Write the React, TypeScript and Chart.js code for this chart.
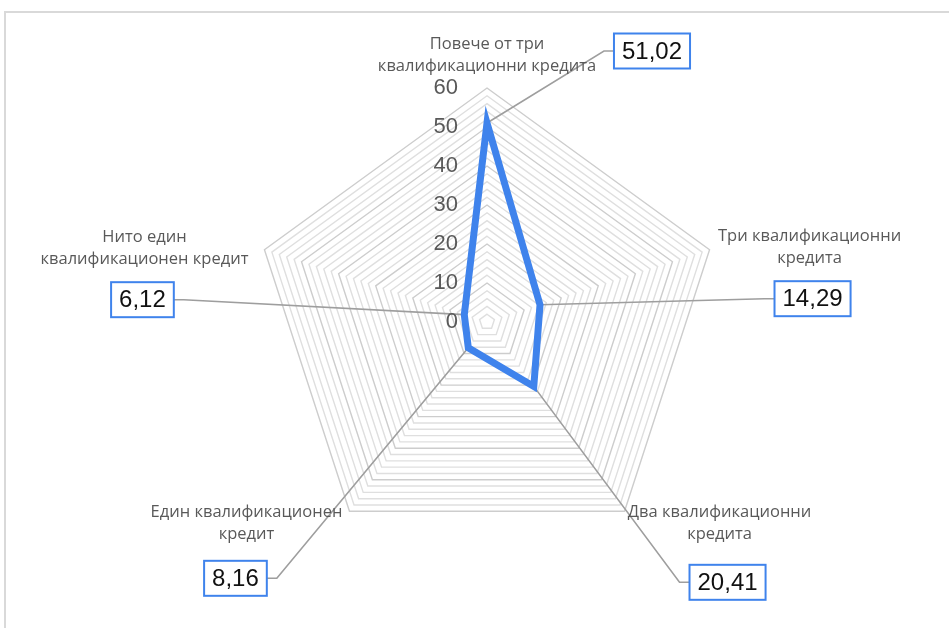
import React, { useEffect, useRef } from "react";
import { Chart, registerables } from "chart.js";

Chart.register(...registerables);

// Categories (two-line labels), shares in percent, radial tick labels
const CATEGORIES: string[][] = [
  ["Повече от три", "квалификационни кредита"],
  ["Три квалификационни", "кредита"],
  ["Два квалификационни", "кредита"],
  ["Един квалификационен", "кредит"],
  ["Нито един", "квалификационен кредит"],
];
const VALUES: number[] = [51.02, 14.29, 20.41, 8.16, 6.12];
const TICK_LABELS: number[] = [0, 10, 20, 30, 40, 50, 60];

// Offsets of category captions and value callouts from each outer vertex
const CAPTION_OFFSETS: [number, number][] = [
  [0, -44],
  [100, -13],
  [95, 1],
  [-103, 1],
  [-120, -12],
];
const CALLOUT_OFFSETS: [number, number][] = [
  [165, -37],
  [103, 49],
  [103, 71],
  [-114, 67],
  [-122, 50],
];

const BLUE = "#3f83ec";
const GREY_TEXT = "#595959";
const CAPTION_FONT = "16.5px 'Open Sans', sans-serif";
const VALUE_FONT = "24px 'Liberation Sans', Arial, sans-serif";
const TICK_FONT = "22px 'Liberation Sans', Arial, sans-serif";

const fmt = (v: number) => v.toFixed(2).replace(".", ",");

function calloutGeometry(chart: any, i: number) {
  const scale = chart.scales.r;
  const outer = scale.getPointPositionForValue(i, scale.max);
  const [ox, oy] = CALLOUT_OFFSETS[i];
  const cx = outer.x + ox;
  const cy = outer.y + oy;
  const ctx = chart.ctx;
  ctx.save();
  ctx.font = VALUE_FONT;
  const tw = ctx.measureText(fmt(VALUES[i])).width;
  ctx.restore();
  const w = tw + 16;
  const h = 35;
  return { cx, cy, w, h };
}

const calloutPlugin = {
  id: "callouts",
  beforeDatasetsDraw(chart: any) {
    const ctx = chart.ctx;
    const meta = chart.getDatasetMeta(0);
    ctx.save();
    ctx.strokeStyle = "#9e9e9e";
    ctx.lineWidth = 1.6;
    VALUES.forEach((_, i) => {
      const pt = meta.data[i];
      const { cx, cy, w } = calloutGeometry(chart, i);
      const right = cx > pt.x;
      const edgeX = right ? cx - w / 2 : cx + w / 2;
      const elbowX = right ? edgeX - 10 : edgeX + 10;
      ctx.beginPath();
      ctx.moveTo(pt.x, pt.y);
      ctx.lineTo(elbowX, cy);
      ctx.lineTo(edgeX, cy);
      ctx.stroke();
    });
    ctx.restore();
  },
  afterDatasetsDraw(chart: any) {
    const ctx = chart.ctx;
    const scale = chart.scales.r;
    ctx.save();
    // category captions
    ctx.font = CAPTION_FONT;
    ctx.fillStyle = GREY_TEXT;
    ctx.textAlign = "center";
    ctx.textBaseline = "middle";
    CATEGORIES.forEach((lines, i) => {
      const outer = scale.getPointPositionForValue(i, scale.max);
      const [ox, oy] = CAPTION_OFFSETS[i];
      lines.forEach((line, j) => {
        ctx.fillText(line, outer.x + ox, outer.y + oy + j * 22);
      });
    });
    // value callouts
    VALUES.forEach((v, i) => {
      const { cx, cy, w, h } = calloutGeometry(chart, i);
      ctx.fillStyle = "#ffffff";
      ctx.fillRect(cx - w / 2, cy - h / 2, w, h);
      ctx.strokeStyle = BLUE;
      ctx.lineWidth = 2;
      ctx.strokeRect(cx - w / 2, cy - h / 2, w, h);
      ctx.font = VALUE_FONT;
      ctx.fillStyle = "#111111";
      ctx.fillText(fmt(v), cx, cy + 1);
    });
    // radial tick labels, left of the vertical axis
    ctx.font = TICK_FONT;
    ctx.fillStyle = GREY_TEXT;
    ctx.textAlign = "right";
    TICK_LABELS.forEach((t) => {
      const y = scale.yCenter - scale.getDistanceFromCenterForValue(t);
      ctx.fillText(String(t), scale.xCenter - 29, y);
    });
    ctx.restore();
  },
};

export default function App() {
  const canvasRef = useRef<HTMLCanvasElement | null>(null);

  useEffect(() => {
    const canvas = canvasRef.current;
    if (!canvas) return;
    const chart = new Chart(canvas, {
      type: "radar",
      data: {
        labels: CATEGORIES.map((l) => l.join(" ")),
        datasets: [
          {
            data: VALUES,
            borderColor: BLUE,
            borderWidth: 7,
            backgroundColor: "rgba(0,0,0,0)",
            fill: false,
            pointRadius: 0,
            pointHoverRadius: 0,
            borderJoinStyle: "miter",
          },
        ],
      },
      options: {
        responsive: false,
        animation: false,
        layout: { padding: { left: 253, right: 228, top: 88, bottom: 72 } },
        plugins: {
          legend: { display: false },
          tooltip: { enabled: false },
        },
        scales: {
          r: {
            min: 0,
            max: 60,
            ticks: { stepSize: 2, display: false },
            grid: {
              color: (c: any) =>
                c.tick && c.tick.value % 10 === 0 ? "#cdcdcd" : "#dfdfdf",
              lineWidth: 1.4,
            },
            angleLines: { display: false },
            pointLabels: { display: false },
          },
        },
      },
      plugins: [calloutPlugin],
    });
    return () => chart.destroy();
  }, []);

  return (
    <div
      style={{
        position: "fixed",
        left: 0,
        top: 0,
        width: 949,
        height: 628,
        overflow: "hidden",
        background: "#ffffff",
      }}
    >
      <div
        style={{
          position: "absolute",
          left: 4,
          top: 11,
          width: 1000,
          height: 700,
          borderTop: "2px solid #d9d9d9",
          borderLeft: "2px solid #d9d9d9",
        }}
      />
      <canvas
        ref={canvasRef}
        width={949}
        height={628}
        style={{ position: "absolute", left: 0, top: 0 }}
      />
    </div>
  );
}
